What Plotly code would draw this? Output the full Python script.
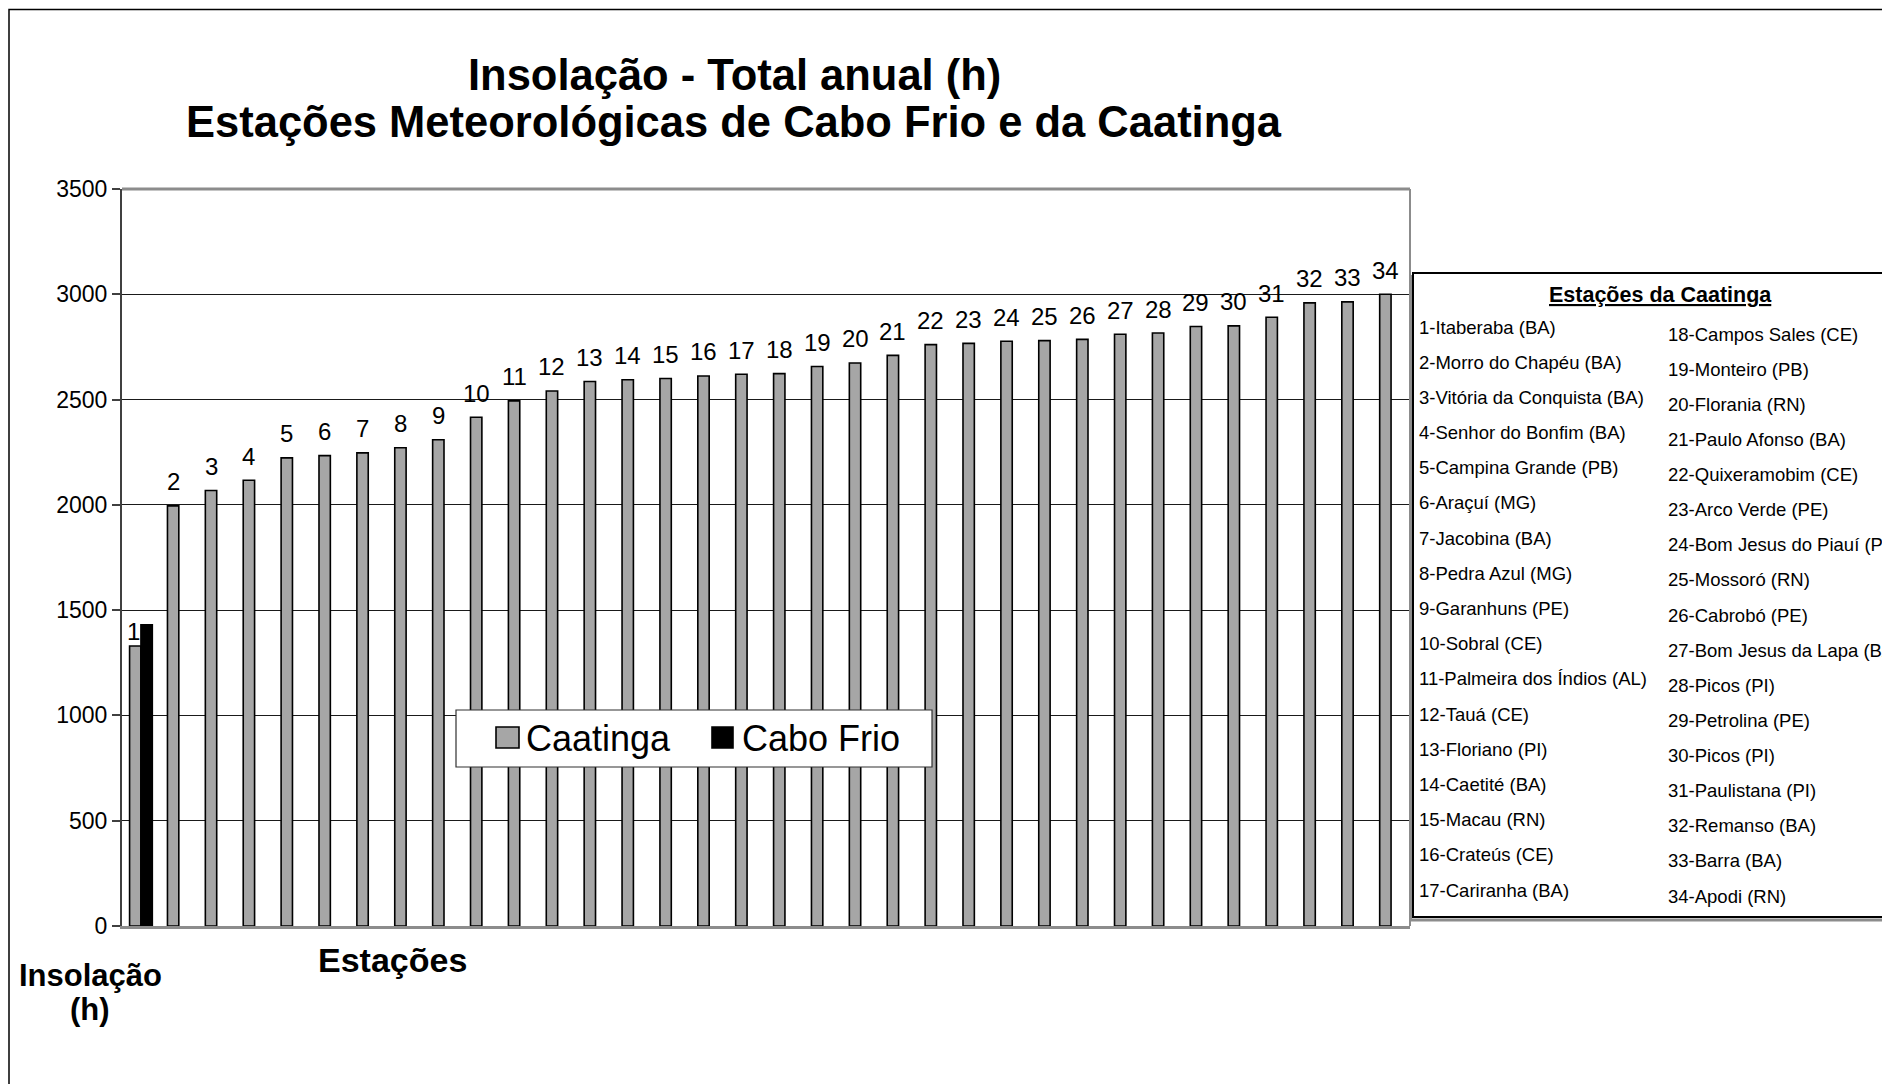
import plotly.graph_objects as go

# ---------------- data ----------------
categories = ["1", "2", "3", "4", "5", "6", "7", "8", "9", "10", "11", "12",
              "13", "14", "15", "16", "17", "18", "19", "20", "21", "22", "23",
              "24", "25", "26", "27", "28", "29", "30", "31", "32", "33", "34"]

caatinga = [1330, 1995, 2068, 2117, 2223, 2234, 2247, 2271, 2309, 2416, 2494,
            2541, 2586, 2594, 2600, 2612, 2620, 2623, 2657, 2674, 2710, 2761,
            2767, 2777, 2780, 2786, 2810, 2816, 2847, 2850, 2891, 2959, 2964,
            3000]

cabo_frio = [1430] + [None] * 33

stations_col1 = ["1-Itaberaba (BA)", "2-Morro do Chapéu (BA)",
                 "3-Vitória da Conquista (BA)", "4-Senhor do Bonfim (BA)",
                 "5-Campina Grande (PB)", "6-Araçuí (MG)", "7-Jacobina (BA)",
                 "8-Pedra Azul (MG)", "9-Garanhuns (PE)", "10-Sobral (CE)",
                 "11-Palmeira dos Índios (AL)", "12-Tauá (CE)",
                 "13-Floriano (PI)", "14-Caetité (BA)", "15-Macau (RN)",
                 "16-Crateús (CE)", "17-Cariranha (BA)"]
stations_col2 = ["18-Campos Sales (CE)", "19-Monteiro (PB)", "20-Florania (RN)",
                 "21-Paulo Afonso (BA)", "22-Quixeramobim (CE)",
                 "23-Arco Verde (PE)", "24-Bom Jesus do Piauí (PI)",
                 "25-Mossoró (RN)", "26-Cabrobó (PE)",
                 "27-Bom Jesus da Lapa (BA)", "28-Picos (PI)",
                 "29-Petrolina (PE)", "30-Picos (PI)", "31-Paulistana (PI)",
                 "32-Remanso (BA)", "33-Barra (BA)", "34-Apodi (RN)"]

y_ticks = [0, 500, 1000, 1500, 2000, 2500, 3000, 3500]

title_line1 = "Insolação - Total anual (h)"
title_line2 = "Estações Meteorológicas de Cabo Frio e da Caatinga"

# ---------------- layout geometry (pixels, as seen in the picture) ----------------
W, H = 1890, 1084
L, R, T, B = 122, 1410, 189, 926
OFF = 8  # page body margin offset
FONT = "Arial, Liberation Sans, sans-serif"
GRAY = "#a6a6a6"
BARGAP = 0.4


def px(x):
    return (x - L) / (R - L)


def py(y):
    return (B - y) / (B - T)


fig = go.Figure()
fig.add_trace(go.Bar(
    x=categories, y=caatinga, name="Caatinga",
    marker=dict(color=GRAY, line=dict(color="black", width=1.6)),
    showlegend=False,
))
fig.add_trace(go.Bar(
    x=categories, y=cabo_frio, name="Cabo Frio",
    marker=dict(color="black", line=dict(color="black", width=1.6)),
    showlegend=False,
))

shapes = []
annotations = []

# number labels above the Caatinga bars (left slot of each group)
bar_w = (R - L) / len(categories) * (1 - BARGAP) / 2
for idx, (cat, val) in enumerate(zip(categories, caatinga)):
    annotations.append(dict(text=cat, x=idx, y=val, xref="x", yref="y",
                            xanchor="center", yanchor="middle",
                            xshift=-bar_w / 2 - (2 if idx == 0 else 0),
                            yshift=(14 if idx == 0 else 24),
                            showarrow=False,
                            font=dict(size=24, family=FONT, color="black")))

# plot frame (top + right gray border)
shapes.append(dict(type="line", xref="paper", yref="paper", x0=0, x1=1, y0=1, y1=1,
                   line=dict(color="#8c8c8c", width=3)))
shapes.append(dict(type="line", xref="paper", yref="paper", x0=1, x1=1, y0=0, y1=1,
                   line=dict(color="#8c8c8c", width=2)))

# outer chart border
shapes.append(dict(type="rect", xref="paper", yref="paper",
                   x0=px(9), x1=px(1905), y0=py(1100), y1=py(9.5),
                   line=dict(color="black", width=1.5), layer="below"))

# custom legend box
shapes.append(dict(type="rect", xref="paper", yref="paper",
                   x0=px(456), x1=px(932), y0=py(767), y1=py(710),
                   fillcolor="white", line=dict(color="#303030", width=1.2),
                   layer="above"))
shapes.append(dict(type="rect", xref="paper", yref="paper",
                   x0=px(496), x1=px(519), y0=py(748), y1=py(727),
                   fillcolor=GRAY, line=dict(color="black", width=1.6),
                   layer="above"))
shapes.append(dict(type="rect", xref="paper", yref="paper",
                   x0=px(712), x1=px(733), y0=py(748), y1=py(727),
                   fillcolor="black", line=dict(color="black", width=1.6),
                   layer="above"))
annotations.append(dict(text="Caatinga", xref="paper", yref="paper",
                        x=px(524), y=py(738), xanchor="left", yanchor="middle",
                        showarrow=False, font=dict(size=36, family=FONT, color="black")))
annotations.append(dict(text="Cabo Frio", xref="paper", yref="paper",
                        x=px(740), y=py(738), xanchor="left", yanchor="middle",
                        showarrow=False, font=dict(size=36, family=FONT, color="black")))

# station list box
shapes.append(dict(type="rect", xref="paper", yref="paper",
                   x0=px(1413), x1=px(1910), y0=py(917), y1=py(273),
                   fillcolor="white", line=dict(color="black", width=2),
                   layer="above"))
shapes.append(dict(type="line", xref="paper", yref="paper",
                   x0=px(1410.5), x1=px(1410.5), y0=py(920), y1=py(275),
                   line=dict(color="#8c8c8c", width=3), layer="above"))
shapes.append(dict(type="line", xref="paper", yref="paper",
                   x0=px(1410), x1=px(1910), y0=py(920), y1=py(920),
                   line=dict(color="#8c8c8c", width=3), layer="above"))
annotations.append(dict(text="<b><u>Estações da Caatinga</u></b>", xref="paper",
                        yref="paper", x=px(1660), y=py(295), xanchor="center",
                        yanchor="middle", showarrow=False,
                        font=dict(size=21.5, family=FONT, color="black")))
step1 = (890 - 327) / 16
for i, name in enumerate(stations_col1):
    annotations.append(dict(text=name, xref="paper", yref="paper",
                            x=px(1417), y=py(327 + i * step1), xanchor="left",
                            yanchor="middle", showarrow=False,
                            font=dict(size=18.5, family=FONT, color="black")))
step2 = (896 - 334) / 16
for i, name in enumerate(stations_col2):
    annotations.append(dict(text=name, xref="paper", yref="paper",
                            x=px(1666), y=py(334 + i * step2), xanchor="left",
                            yanchor="middle", showarrow=False,
                            font=dict(size=18.5, family=FONT, color="black")))

# titles
annotations.append(dict(text="<b>" + title_line1 + "</b>", xref="paper", yref="paper",
                        x=px(734), y=py(75), xanchor="center", yanchor="middle",
                        showarrow=False, font=dict(size=43.5, family=FONT, color="black")))
annotations.append(dict(text="<b>" + title_line2 + "</b>", xref="paper", yref="paper",
                        x=px(734), y=py(122), xanchor="center", yanchor="middle",
                        showarrow=False, font=dict(size=43.5, family=FONT, color="black")))

# axis titles
annotations.append(dict(text="<b>Estações</b>", xref="paper", yref="paper",
                        x=px(392), y=py(960), xanchor="center", yanchor="middle",
                        showarrow=False, font=dict(size=34, family=FONT, color="black")))
annotations.append(dict(text="<b>Insolação</b>", xref="paper", yref="paper",
                        x=px(90), y=py(976), xanchor="center", yanchor="middle",
                        showarrow=False, font=dict(size=31, family=FONT, color="black")))
annotations.append(dict(text="<b>(h)</b>", xref="paper", yref="paper",
                        x=px(90), y=py(1009), xanchor="center", yanchor="middle",
                        showarrow=False, font=dict(size=31, family=FONT, color="black")))

fig.update_layout(
    width=W, height=H,
    margin=dict(l=L - OFF, r=W - (R - OFF), t=T - OFF, b=H - (B - OFF), pad=0),
    paper_bgcolor="white", plot_bgcolor="white",
    barmode="group", bargap=BARGAP, bargroupgap=0,
    font=dict(family=FONT, color="black"),
    showlegend=False,
    shapes=shapes, annotations=annotations,
    xaxis=dict(type="category", categoryorder="array", categoryarray=categories,
               showticklabels=False, ticks="", showgrid=False,
               showline=True, linecolor="#8c8c8c", linewidth=3, zeroline=False),
    yaxis=dict(range=[0, 3500], tickvals=y_ticks, ticks="outside", ticklen=8,
               tickcolor="#404040", tickwidth=1.5,
               tickfont=dict(size=23, family=FONT, color="black"),
               showgrid=True, gridcolor="#1a1a1a", gridwidth=1,
               showline=True, linecolor="#404040", linewidth=2, zeroline=False),
)

fig.write_html("out.html")
